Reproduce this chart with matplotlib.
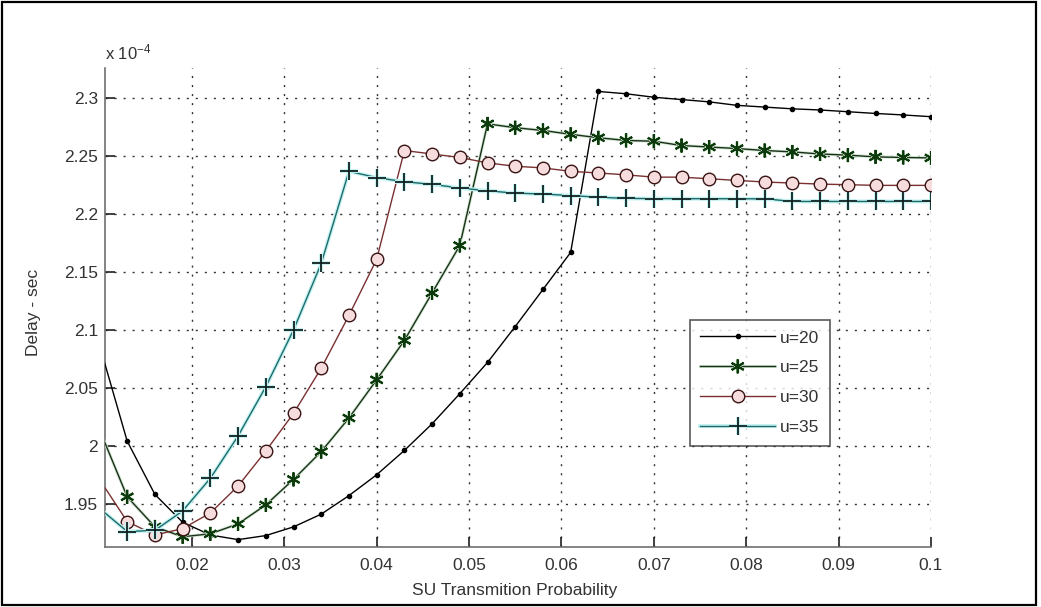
import matplotlib

matplotlib.use("Agg")
import matplotlib.pyplot as plt
import matplotlib.patheffects as pe
from matplotlib.patches import Rectangle


# SU transmission probability grid (0.01 .. 0.1, step 0.003)
su_prob = [
    0.010, 0.013, 0.016, 0.019, 0.022, 0.025, 0.028, 0.031, 0.034, 0.037,
    0.040, 0.043, 0.046, 0.049, 0.052, 0.055, 0.058, 0.061, 0.064, 0.067,
    0.070, 0.073, 0.076, 0.079, 0.082, 0.085, 0.088, 0.091, 0.094, 0.097,
    0.100,
]

# delay in units of 1e-4 s
delay_u20 = [
    2.087, 2.004, 1.958, 1.934, 1.923, 1.919, 1.9225, 1.930, 1.941, 1.957,
    1.975, 1.996, 2.019, 2.045, 2.072, 2.103, 2.135, 2.167, 2.306, 2.304,
    2.301, 2.299, 2.297, 2.294, 2.2925, 2.291, 2.290, 2.2885, 2.287, 2.2857,
    2.2842,
]
delay_u25 = [
    2.014, 1.956, 1.930, 1.9215, 1.924, 1.9326, 1.949, 1.971, 1.995, 2.024,
    2.057, 2.091, 2.132, 2.173, 2.278, 2.2747, 2.2723, 2.269, 2.266, 2.2637,
    2.263, 2.2593, 2.258, 2.2567, 2.255, 2.2538, 2.252, 2.251, 2.2495, 2.249,
    2.2486,
]
delay_u30 = [
    1.971, 1.9346, 1.923, 1.9285, 1.942, 1.9653, 1.9955, 2.028, 2.067, 2.1126,
    2.161, 2.255, 2.252, 2.249, 2.2443, 2.2414, 2.240, 2.237, 2.2356, 2.234,
    2.232, 2.232, 2.2306, 2.2292, 2.2278, 2.2269, 2.226, 2.2255, 2.2249, 2.2249,
    2.2249,
]
delay_u35 = [
    1.946, 1.926, 1.927, 1.9438, 1.972, 2.0085, 2.051, 2.100, 2.1575, 2.237,
    2.2316, 2.228, 2.2258, 2.2226, 2.2202, 2.2182, 2.2174, 2.2161, 2.2147, 2.2136,
    2.2135, 2.2134, 2.2134, 2.2133, 2.2133, 2.211, 2.211, 2.211, 2.211, 2.211,
    2.211,
]

labels = ["u=20", "u=25", "u=30", "u=35"]
xticks = [0.02, 0.03, 0.04, 0.05, 0.06, 0.07, 0.08, 0.09, 0.1]
xticklabels = ["0.02", "0.03", "0.04", "0.05", "0.06", "0.07", "0.08", "0.09", "0.1"]
yticks = [1.95, 2.0, 2.05, 2.1, 2.15, 2.2, 2.25, 2.3]
yticklabels = ["1.95", "2", "2.05", "2.1", "2.15", "2.2", "2.25", "2.3"]

plt.rcParams["font.family"] = ["Liberation Sans", "DejaVu Sans"]
plt.rcParams["mathtext.fontset"] = "custom"
plt.rcParams["mathtext.rm"] = "Liberation Sans"
plt.rcParams["mathtext.it"] = "Liberation Sans"

text_color = "#333333"
asterisk = (6, 2, 0)

fig = plt.figure(figsize=(10.41, 6.07), dpi=100)
ax = fig.add_axes([0.1009, 0.0984, 0.7934, 0.7891])

skip_first = slice(1, None)

ax.plot(su_prob, delay_u20, color="black", lw=1.0, marker=".",
        markersize=6, markevery=skip_first, label=labels[0], zorder=3)
ax.plot(su_prob, delay_u25, color="#1b301b", lw=1.0, marker=asterisk,
        markersize=10, markeredgewidth=1.4, markeredgecolor="#0c3a0c",
        markevery=skip_first, label=labels[1], zorder=3,
        path_effects=[pe.Stroke(linewidth=2.2, foreground="#cfe6cf"), pe.Normal()])
ax.plot(su_prob, delay_u30, color="#7a3030", lw=1.0, marker="o",
        markersize=9, markerfacecolor="#f6dcdc", markeredgecolor="#3a1414",
        markeredgewidth=1.0, markevery=skip_first, label=labels[2], zorder=3)
ax.plot(su_prob, delay_u35, color="#1f6a6a", lw=1.0, marker="+",
        markersize=13, markeredgewidth=1.3, markeredgecolor="#102020",
        markevery=skip_first, label=labels[3], zorder=3,
        path_effects=[pe.Stroke(linewidth=2.8, foreground="#c4f2f2"), pe.Normal()])

ax.set_xlim(0.0106, 0.1)
ax.set_ylim(1.9124, 2.326)

ax.set_xticks(xticks)
ax.set_xticklabels(xticklabels)
ax.set_yticks(yticks)
ax.set_yticklabels(yticklabels)

ax.grid(True, color="black", linestyle=(0, (1.5, 5.0)), linewidth=1.0, alpha=0.8)
ax.set_axisbelow(True)

for side in ["top", "right"]:
    ax.spines[side].set_visible(False)
for side in ["left", "bottom"]:
    ax.spines[side].set_color("#707070")
    ax.spines[side].set_linewidth(1.2)

ax.tick_params(direction="in", length=7, width=1.2, color="#202020",
               labelsize=12.5, labelcolor=text_color)
ax.tick_params(axis="x", pad=8)
ax.tick_params(axis="y", pad=5)

ax.set_xlabel("SU Transmition Probability", fontsize=12.5, color=text_color)
ax.set_ylabel("Delay - sec", fontsize=12.5, color=text_color)
ax.xaxis.set_label_coords(0.496, -0.075)
ax.yaxis.set_label_coords(-0.077, 0.49)

ax.annotate(r"x 10$^{-4}$", xy=(0, 1), xycoords="axes fraction",
            xytext=(0, 4), textcoords="offset points",
            ha="left", va="bottom", fontsize=12, color=text_color)

leg = ax.legend(loc="upper left", bbox_to_anchor=(0.7082, 0.4745),
                fontsize=12.5, frameon=True, fancybox=False,
                handlelength=4.3, handletextpad=0.3, labelspacing=0.85,
                borderpad=0.6, borderaxespad=0.0)
leg.get_frame().set_edgecolor("#303030")
leg.get_frame().set_linewidth(1.2)
for t in leg.get_texts():
    t.set_color(text_color)

fig.add_artist(Rectangle((2 / 1041, 2 / 607), 1034 / 1041, 603 / 607,
                         transform=fig.transFigure, fill=False,
                         edgecolor="black", linewidth=1.6))

fig.savefig("out.png", dpi=100)
